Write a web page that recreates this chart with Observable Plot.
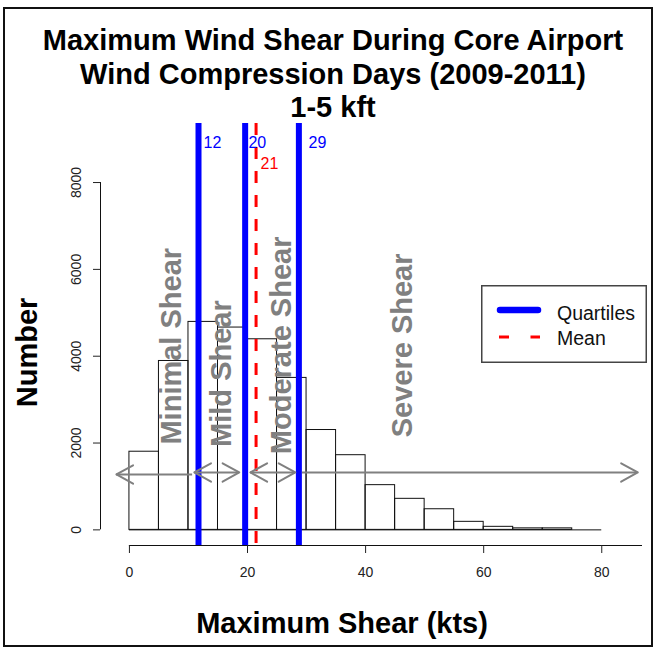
<!DOCTYPE html>
<html>
<head>
<meta charset="utf-8">
<script src="https://cdn.jsdelivr.net/npm/d3@7"></script>
<script src="https://cdn.jsdelivr.net/npm/@observablehq/plot@0.6"></script>
<style>
  body { margin: 0; background: #fff; font-family: "Liberation Sans", Arial, sans-serif; }
  #wrap { position: relative; width: 654px; height: 649px; overflow: hidden; background: #fff; }
  #border { position: absolute; left: 3px; top: 7px; width: 650px; height: 640px; box-sizing: border-box; border: 2px solid #111; pointer-events: none; }
  #title { position: absolute; left: 0; top: 24px; width: 666px; text-align: center; font-weight: bold; font-size: 29px; line-height: 33.5px; color: #000; }
  #chart { position: absolute; left: 0; top: 123px; }
  #legend { position: absolute; left: 481px; top: 285px; }
</style>
</head>
<body>
<div id="wrap">
  <div id="title">Maximum Wind Shear During Core Airport<br>Wind Compression Days (2009-2011)<br>1-5 kft</div>
  <div id="chart"></div>
  <div id="legend">
    <svg width="166" height="78" style="display:block">
      <rect x="0.75" y="0.75" width="164.5" height="76.5" fill="#fff" stroke="#444" stroke-width="1.5"></rect>
      <line x1="19" y1="25" x2="57" y2="25" stroke="#0000ff" stroke-width="6.5" stroke-linecap="round"></line>
      <line x1="18" y1="52" x2="59" y2="52" stroke="#ff0000" stroke-width="3" stroke-dasharray="10,21.5"></line>
      <text x="76" y="35" font-size="19.5" fill="#111" font-family="Liberation Sans, Arial, sans-serif">Quartiles</text>
      <text x="76" y="60" font-size="19.5" fill="#111" font-family="Liberation Sans, Arial, sans-serif">Mean</text>
    </svg>
  </div>
  <div id="border"></div>
</div>
<script>
// ---- data ----
const binStarts = [0, 5, 10, 15, 20, 25, 30, 35, 40, 45, 50, 55, 60, 65, 70, 75];
const binWidth = 5;
const counts = [1800, 3890, 4790, 4660, 4390, 3500, 2300, 1720, 1030, 715, 475, 185, 70, 35, 35, 0];

const quartiles = [11.7, 19.6, 28.7];
const quartileLabels = ["12", "20", "29"];
const quartileLabelX = [12.55, 20.15, 30.35];
const quartileLabelY = 8800;

const meanValue = 21.45;
const meanLabel = "21";
const meanLabelX = 22.2;
const meanLabelY = 8320;

const xTicks = [0, 20, 40, 60, 80];
const yTicks = [0, 2000, 4000, 6000, 8000];
const xDomain = [-4.9, 86.9];
const yDomain = [-360, 9360];

const categoryNames = ["Minimal Shear", "Mild Shear", "Moderate Shear", "Severe Shear"];
const categoryX = [7.2, 15.7, 25.85, 46.3];
const categoryY = [4230, 3600, 4250, 4250];

const arrowStart = [-2.2, 11.0, 20.5, 29.3];
const arrowEnd = [10.7, 18.6, 28.1, 86.1];
const arrowY = [1276, 1322, 1322, 1322];
const arrowHeadAtStart = [true, true, true, false];
const arrowHeadAtEnd = [false, true, true, true];

// ---- derived tables ----
const bins = binStarts.map((s, i) => ({x1: s, x2: s + binWidth, count: counts[i]}));
const arrows = arrowStart.map((s, i) => ({x1: s, x2: arrowEnd[i], y: arrowY[i]}));
const heads = [];
arrows.forEach((a, i) => {
  if (arrowHeadAtStart[i]) heads.push({x: a.x1, y: a.y, dir: -1});
  if (arrowHeadAtEnd[i]) heads.push({x: a.x2, y: a.y, dir: 1});
});

const gray = "#808080";
const wingAngle = 29 * Math.PI / 180;
const wingShape = {
  draw(context, l) {
    context.moveTo(-l * Math.sin(wingAngle), l * Math.cos(wingAngle));
    context.lineTo(0, 0);
    context.lineTo(l * Math.sin(wingAngle), l * Math.cos(wingAngle));
  }
};

const chart = Plot.plot({
  width: 654,
  height: 526,
  marginTop: 0,
  marginLeft: 100,
  marginRight: 12,
  marginBottom: 104,
  x: {domain: xDomain},
  y: {domain: yDomain},
  style: {fontFamily: '"Liberation Sans", Arial, sans-serif', background: "transparent", overflow: "visible"},
  marks: [
    Plot.rect(bins, {x1: "x1", x2: "x2", y1: 0, y2: "count", stroke: "#111", fill: "none", strokeWidth: 1}),
    Plot.ruleY([0], {x1: binStarts[0], x2: binStarts[binStarts.length - 1] + binWidth, stroke: "#111"}),
    Plot.ruleX([xDomain[0]], {y1: yTicks[0], y2: yTicks[yTicks.length - 1], stroke: "#111"}),
    Plot.ruleY([yDomain[0]], {x1: xTicks[0], x2: xDomain[1], stroke: "#111"}),
    Plot.axisY({ticks: yTicks, tickFormat: d3.format("d"), tickSize: 7, tickPadding: 13, tickRotate: -90, fontSize: 14, label: null, color: "#222"}),
    Plot.axisX({ticks: xTicks, tickFormat: d3.format("d"), tickSize: 8, tickPadding: 14, fontSize: 14, label: null, color: "#222"}),
    Plot.ruleX(quartiles, {stroke: "#0000ff", strokeWidth: 6}),
    Plot.ruleX([meanValue], {stroke: "#ff0000", strokeWidth: 3, strokeDasharray: "12,12"}),
    Plot.text(categoryNames, {x: (d, i) => categoryX[i], y: (d, i) => categoryY[i], rotate: -90, fill: gray, fontSize: 29, fontWeight: "bold", textAnchor: "middle", lineAnchor: "middle"}),
    Plot.ruleY(arrows, {y: "y", x1: "x1", x2: "x2", stroke: gray, strokeWidth: 2}),
    Plot.vector(heads, {x: "x", y: "y", rotate: d => d.dir < 0 ? -90 : 90, length: 19, anchor: "start", shape: wingShape, stroke: gray, strokeWidth: 2, fill: "none"}),
    Plot.text(quartileLabels, {x: (d, i) => quartileLabelX[i], y: quartileLabelY, textAnchor: "start", lineAnchor: "bottom", fill: "#0000ff", fontSize: 16}),
    Plot.text([meanLabel], {x: meanLabelX, y: meanLabelY, textAnchor: "start", lineAnchor: "bottom", fill: "#ff0000", fontSize: 16}),
    Plot.text(["Number"], {frameAnchor: "left", rotate: -90, dx: -64, dy: 18, lineAnchor: "bottom", textAnchor: "middle", fontSize: 29, fontWeight: "bold", fill: "#000"}),
    Plot.text(["Maximum Shear (kts)"], {frameAnchor: "bottom", dx: -29.5, dy: 87, lineAnchor: "bottom", textAnchor: "middle", fontSize: 29, fontWeight: "bold", fill: "#000"})
  ]
});
document.getElementById("chart").appendChild(chart);
</script>
</body>
</html>
